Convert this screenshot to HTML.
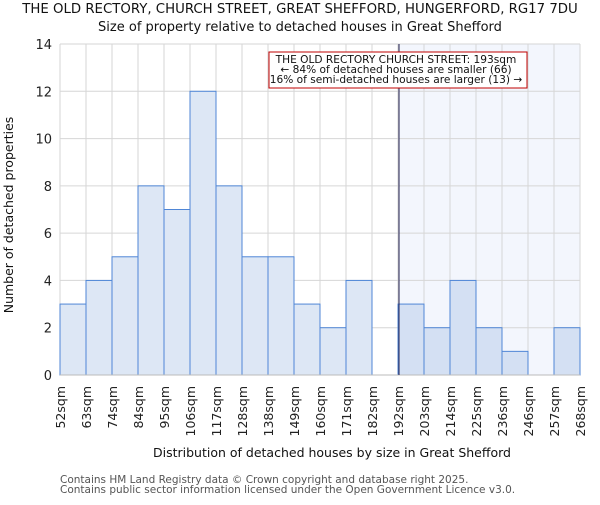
<!DOCTYPE html><html><head><meta charset="utf-8"><style>body{margin:0;background:#fff}svg text{font-family:"DejaVu Sans","Liberation Sans",sans-serif}</style></head><body>
<svg id="c" width="600" height="500"></svg>
<script>
const categories=["52sqm","63sqm","74sqm","84sqm","95sqm","106sqm","117sqm","128sqm","138sqm","149sqm","160sqm","171sqm","182sqm","192sqm","203sqm","214sqm","225sqm","236sqm","246sqm","257sqm","268sqm"];
const counts=[3,4,5,8,7,12,8,5,5,3,2,4,0,3,2,4,2,1,0,2];
const yTicks=[0,2,4,6,8,10,12,14];
const markerBin=13;
const NS="http://www.w3.org/2000/svg",svg=document.getElementById('c');
const L=60,R=580,T=44,B=375,n=counts.length;
const x=i=>L+(R-L)*i/n, y=v=>B-(B-T)*v/14;
function el(t,a,txt,p){const e=document.createElementNS(NS,t);for(const k in a)e.setAttribute(k,a[k]);if(txt!=null)e.textContent=txt;(p||svg).appendChild(e);return e;}
let e;
e=el('rect',{x:x(markerBin),y:T,width:R-x(markerBin),height:B-T,fill:'#f3f6fd'});

yTicks.forEach(v=>{e=el('line',{x1:L,x2:R,y1:y(v),y2:y(v),stroke:'#d6d6d6'});
e=el('text',{x:L-8,y:y(v)+5,'text-anchor':'end','font-size':13,fill:'#222'},v);});
for(let i=0;i<=n;i++){e=el('line',{x1:x(i),x2:x(i),y1:T,y2:B,stroke:'#d6d6d6'});}
counts.forEach((v,i)=>{if(!v)return;e=el('rect',{x:x(i),y:y(v),width:x(i+1)-x(i),height:B-y(v),fill:i>=markerBin?'#d4e0f3':'#dde7f5',stroke:'#4f86d6','stroke-width':1});
});
e=el('line',{x1:L,x2:R,y1:B,y2:B,stroke:'#bbb'});
categories.forEach((c,i)=>{e=el('text',{transform:`translate(${x(i)+5},386) rotate(-90)`,'text-anchor':'end','font-size':12.5,fill:'#222'},c);});
e=el('line',{x1:x(markerBin)+1,x2:x(markerBin)+1,y1:T,y2:B,stroke:'#222050','stroke-width':1});
const g=el('g',{});
el('rect',{x:269,y:52,width:258,height:36,fill:'#fff',stroke:'#c00000'},null,g);
["THE OLD RECTORY CHURCH STREET: 193sqm","← 84% of detached houses are smaller (66)","16% of semi-detached houses are larger (13) →"].forEach((t,k)=>el('text',{x:396,y:63+k*10,'text-anchor':'middle','font-size':10.6,fill:'#111'},t,g));
e=el('text',{x:300,y:13,'text-anchor':'middle','font-size':13.3,fill:'#111'},"THE OLD RECTORY, CHURCH STREET, GREAT SHEFFORD, HUNGERFORD, RG17 7DU");
e=el('text',{x:300,y:31,'text-anchor':'middle','font-size':13,fill:'#111'},"Size of property relative to detached houses in Great Shefford");
e=el('text',{x:332,y:457,'text-anchor':'middle','font-size':12.5,fill:'#111'},"Distribution of detached houses by size in Great Shefford");
e=el('text',{transform:'translate(13,215) rotate(-90)','text-anchor':'middle','font-size':12.5,fill:'#111'},"Number of detached properties");
e=el('text',{x:60,y:483,'font-size':10.5,fill:'#555'},"Contains HM Land Registry data © Crown copyright and database right 2025.");
e=el('text',{x:60,y:493,'font-size':10.5,fill:'#555'},"Contains public sector information licensed under the Open Government Licence v3.0.");
</script></body></html>
